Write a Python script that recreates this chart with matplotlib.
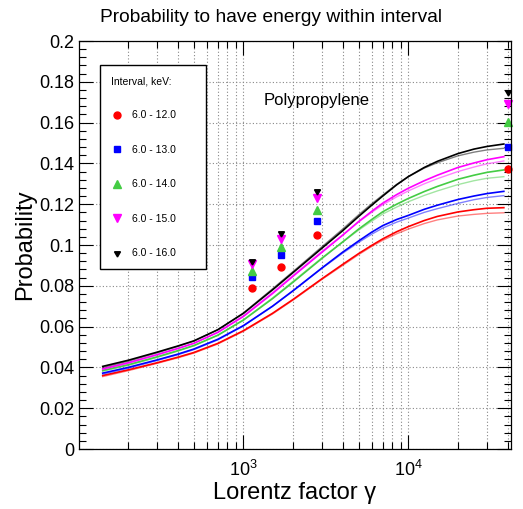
import numpy as np
import matplotlib
matplotlib.use('Agg')
import matplotlib.pyplot as plt
from matplotlib.ticker import FixedLocator, LogLocator, MultipleLocator, FuncFormatter, NullFormatter
from matplotlib.lines import Line2D

plt.rcParams['font.family'] = ['Liberation Sans', 'DejaVu Sans']

# Lorentz factor grid of the simulated curves
gamma = [140, 200, 300, 400, 500, 700, 1000, 1500, 2000, 3000, 4000, 5000, 6000, 7000,
         8500, 10000, 12500, 15000, 20000, 25000, 30000, 38000]

labels = ['6.0 - 12.0', '6.0 - 13.0', '6.0 - 14.0', '6.0 - 15.0', '6.0 - 16.0']

# main curves
red_main = [0.0360, 0.0388, 0.0423, 0.0450, 0.0473, 0.0518, 0.0580, 0.0665, 0.0733, 0.0835, 0.0905,
            0.0958, 0.0998, 0.1030, 0.1065, 0.1090, 0.1120, 0.1140, 0.1162, 0.1173, 0.1180, 0.1183]
blue_main = [0.0372, 0.0400, 0.0437, 0.0465, 0.0490, 0.0538, 0.0605, 0.0700, 0.0776, 0.0888, 0.0965,
             0.1020, 0.1063, 0.1095, 0.1125, 0.1145, 0.1175, 0.1195, 0.1223, 0.1240, 0.1252, 0.1263]
green_main = [0.0385, 0.0413, 0.0452, 0.0482, 0.0507, 0.0558, 0.0632, 0.0737, 0.0818, 0.0935, 0.1015,
              0.1078, 0.1125, 0.1163, 0.1200, 0.1228, 0.1262, 0.1287, 0.1322, 0.1342, 0.1356, 0.1368]
magenta_main = [0.0393, 0.0423, 0.0463, 0.0493, 0.0518, 0.0572, 0.0650, 0.0762, 0.0847, 0.0965, 0.1048,
                0.1115, 0.1165, 0.1205, 0.1247, 0.1278, 0.1315, 0.1342, 0.1380, 0.1402, 0.1418, 0.1433]
black_main = [0.0405, 0.0435, 0.0475, 0.0505, 0.0530, 0.0585, 0.0665, 0.0780, 0.0865, 0.0985, 0.1070,
              0.1140, 0.1195, 0.1240, 0.1295, 0.1335, 0.1380, 0.1410, 0.1448, 0.1470, 0.1483, 0.1495]

# second (fainter) curve of each bundle
red_alt = [0.0355, 0.0384, 0.0420, 0.0447, 0.0470, 0.0515, 0.0577, 0.0662, 0.0730, 0.0832, 0.0900,
           0.0953, 0.0993, 0.1023, 0.1055, 0.1078, 0.1105, 0.1123, 0.1142, 0.1150, 0.1155, 0.1158]
blue_alt = [0.0367, 0.0396, 0.0434, 0.0462, 0.0487, 0.0535, 0.0603, 0.0699, 0.0775, 0.0886, 0.0960,
            0.1013, 0.1053, 0.1083, 0.1112, 0.1132, 0.1160, 0.1178, 0.1204, 0.1222, 0.1233, 0.1242]
green_alt = [0.0381, 0.0410, 0.0449, 0.0480, 0.0506, 0.0558, 0.0633, 0.0740, 0.0822, 0.0938, 0.1015,
             0.1073, 0.1117, 0.1152, 0.1186, 0.1212, 0.1243, 0.1265, 0.1296, 0.1315, 0.1327, 0.1335]
magenta_alt = [0.0389, 0.0420, 0.0461, 0.0492, 0.0518, 0.0573, 0.0653, 0.0767, 0.0852, 0.0970, 0.1050,
               0.1113, 0.1160, 0.1197, 0.1236, 0.1265, 0.1300, 0.1325, 0.1360, 0.1382, 0.1398, 0.1412]
black_alt = [0.0400, 0.0431, 0.0472, 0.0503, 0.0529, 0.0585, 0.0667, 0.0785, 0.0870, 0.0992, 0.1078,
             0.1148, 0.1202, 0.1245, 0.1297, 0.1335, 0.1377, 0.1403, 0.1437, 0.1455, 0.1466, 0.1474]

# measured points
gamma_pts = [1130, 1700, 2800, 40000]
red_pts = [0.0790, 0.0894, 0.1047, 0.1373]
blue_pts = [0.0842, 0.0949, 0.1119, 0.1482]
green_pts = [0.0874, 0.0992, 0.1172, 0.1604]
magenta_pts = [0.0905, 0.1028, 0.1229, 0.1690]
black_pts = [0.0923, 0.1060, 0.1265, 0.1752]

colors = ['#ff0000', '#0000ff', '#44cc44', '#ff00ff', '#000000']
markers = ['o', 's', '^', 'v', (3, 1, 180)]
msizes = [5, 5, 5.5, 5.5, 5]

mains = [red_main, blue_main, green_main, magenta_main, black_main]
alts = [red_alt, blue_alt, green_alt, magenta_alt, black_alt]
pts = [red_pts, blue_pts, green_pts, magenta_pts, black_pts]

fig = plt.figure(figsize=(5.23, 5.09), dpi=100)
ax = fig.add_axes([79 / 523, 60 / 509, 432 / 523, 408 / 509])

for c, m, a in zip(colors, mains, alts):
    ax.plot(gamma, a, color=c, lw=1.0, alpha=0.5)
    ax.plot(gamma, m, color=c, lw=1.2)

handles = []
for c, mk, ms, p, lab in zip(colors, markers, msizes, pts, labels):
    ax.plot(gamma_pts, p, ls='none', marker=mk, color=c, markersize=ms, clip_on=False)
    handles.append(Line2D([], [], ls='none', marker=mk, color=c, markersize=ms, label=lab))

ax.set_xscale('log')
ax.set_xlim(100.5, 42000)
ax.set_ylim(0, 0.2)

ax.xaxis.set_major_locator(FixedLocator([1e3, 1e4]))
ax.xaxis.set_major_formatter(FuncFormatter(lambda v, p: r'$\mathregular{10^{%d}}$' % round(np.log10(v))))
ax.xaxis.set_minor_locator(LogLocator(base=10, subs=(2, 3, 4, 5, 6, 7, 8, 9)))
ax.xaxis.set_minor_formatter(NullFormatter())
ax.yaxis.set_major_locator(MultipleLocator(0.02))
ax.yaxis.set_minor_locator(MultipleLocator(0.004))
ax.yaxis.set_major_formatter(FuncFormatter(lambda v, p: '%g' % round(v, 3)))

ax.tick_params(which='both', direction='in', top=True, right=True, labelsize=13, width=0.8)
ax.tick_params(which='major', length=10)
ax.tick_params(which='minor', length=5)
ax.tick_params(axis='x', which='major', pad=8)

ax.grid(True, which='major', axis='y', ls=(0, (1, 2)), color='#888888', lw=0.8)
ax.grid(True, which='both', axis='x', ls=(0, (1, 2)), color='#888888', lw=0.8)
for s in ax.spines.values():
    s.set_linewidth(0.9)

fig.text(271.5 / 523, 1 - 17 / 509, 'Probability to have energy within interval',
         fontsize=13.8, ha='center', va='center')
ax.set_xlabel('Lorentz factor γ', fontsize=17, labelpad=1)
ax.set_ylabel('Probability', fontsize=17, labelpad=2)

ax.text(0.428, 0.853, 'Polypropylene', transform=ax.transAxes, fontsize=12, va='center', ha='left')

leg = ax.legend(handles=handles, title='Interval, keV:', loc='upper left',
                bbox_to_anchor=(0.049, 0.941, 0.245, 0.0), mode='expand', borderaxespad=0,
                fontsize=7.5, title_fontsize=7.5, labelspacing=2.35, handlelength=1.1,
                handletextpad=0.9, borderpad=1.05, fancybox=False, framealpha=1,
                edgecolor='black', alignment='left')
leg.get_frame().set_linewidth(1.0)

fig.savefig('out.png', dpi=100)
